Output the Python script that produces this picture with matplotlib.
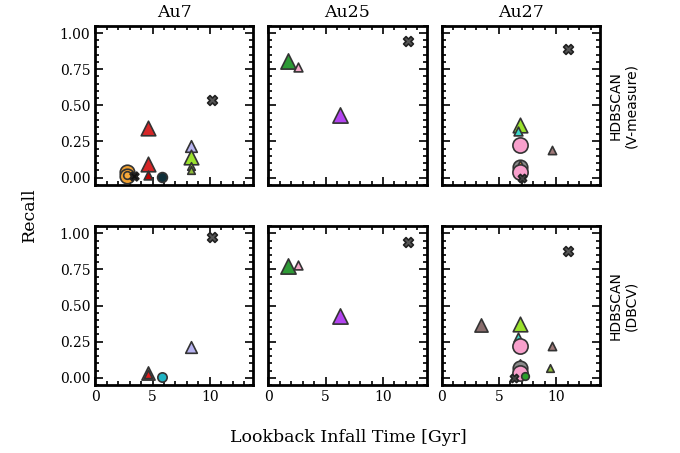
import matplotlib
matplotlib.use("Agg")
import matplotlib.pyplot as plt
from matplotlib.ticker import MultipleLocator

halos = ["Au7", "Au25", "Au27"]
methods = ["HDBSCAN\n(V-measure)", "HDBSCAN\n(DBCV)"]

# lookback infall time [Gyr], recall, and which kind of object it is
au7_vm_t = [2.8, 2.8, 2.8, 3.4, 4.6, 4.6, 4.6, 5.85, 8.4, 8.4, 8.4, 8.4, 10.15]
au7_vm_r = [0.04, 0.01, 0.02, 0.01, 0.34, 0.095, 0.02, 0.005, 0.215, 0.145, 0.08, 0.05, 0.535]
au7_vm_k = ["orange_c", "orange_c", "orange_s", "black_x", "red_t", "red_t", "dred_s", "dark_c",
            "lav_t", "chart_t", "olive_s", "olive_s", "gray_x"]

au25_vm_t = [1.75, 2.55, 6.25, 12.15]
au25_vm_r = [0.81, 0.765, 0.435, 0.945]
au25_vm_k = ["green_t", "pink_s", "purple_t", "gray_x"]

au27_vm_t = [6.85, 6.7, 6.85, 9.6, 6.85, 6.85, 6.85, 7.0, 11.05]
au27_vm_r = [0.365, 0.32, 0.225, 0.19, 0.07, 0.085, 0.035, 0.0, 0.89]
au27_vm_k = ["chart_t", "cyan_s", "pink_c", "rosy_s", "gray_c", "orange_t", "pink_c", "dark_x", "gray_x"]

au7_db_t = [4.6, 4.6, 5.85, 8.4, 10.2]
au7_db_r = [0.03, 0.025, 0.005, 0.21, 0.975]
au7_db_k = ["rosy_t", "red_s", "cyan_c", "lav_t", "gray_x"]

au25_db_t = [1.75, 2.55, 6.25, 12.15]
au25_db_r = [0.775, 0.78, 0.43, 0.94]
au25_db_k = ["green_t", "pink_s", "purple_t", "gray_x"]

au27_db_t = [3.4, 6.85, 6.7, 6.85, 9.6, 9.45, 6.85, 6.85, 6.85, 6.35, 7.3, 11.05]
au27_db_r = [0.365, 0.375, 0.285, 0.22, 0.22, 0.065, 0.095, 0.07, 0.03, 0.0, 0.01, 0.88]
au27_db_k = ["rosy_t", "chart_t", "cyan_s", "pink_c", "rosy_s", "olive_s", "orange_t", "gray_c",
             "pink_c", "dark_x", "green_c", "gray_x"]

# marker, face colour, size
styles = {
    "gray_x": ("X", "#555555", 50),
    "black_x": ("X", "#111111", 40),
    "dark_x": ("X", "#444444", 35),
    "red_t": ("^", "#d62728", 110),
    "red_s": ("^", "#e31a1c", 35),
    "dred_s": ("^", "#c00000", 40),
    "lav_t": ("^", "#b7b3f0", 70),
    "chart_t": ("^", "#9be22d", 110),
    "olive_s": ("^", "#8fbc3a", 30),
    "green_t": ("^", "#2e9a36", 120),
    "pink_s": ("^", "#f4a8c8", 40),
    "purple_t": ("^", "#b344f0", 120),
    "cyan_s": ("^", "#3ed6c8", 40),
    "rosy_s": ("^", "#a07a7a", 35),
    "rosy_t": ("^", "#8a6e6e", 90),
    "orange_t": ("^", "#f09a30", 45),
    "orange_c": ("o", "#f0a030", 110),
    "orange_s": ("o", "#f7a93a", 30),
    "dark_c": ("o", "#10303a", 50),
    "cyan_c": ("o", "#20b4c4", 45),
    "pink_c": ("o", "#f8a0cc", 120),
    "gray_c": ("o", "#8a8a8a", 110),
    "green_c": ("o", "#2ca02c", 30),
}

panels = [
    [(au7_vm_t, au7_vm_r, au7_vm_k), (au25_vm_t, au25_vm_r, au25_vm_k), (au27_vm_t, au27_vm_r, au27_vm_k)],
    [(au7_db_t, au7_db_r, au7_db_k), (au25_db_t, au25_db_r, au25_db_k), (au27_db_t, au27_db_r, au27_db_k)],
]

fig, axes = plt.subplots(2, 3, figsize=(6.8, 4.53), dpi=100, sharex=True, sharey=True)
plt.subplots_adjust(left=0.14, right=0.882, top=0.943, bottom=0.15, wspace=0.095, hspace=0.26)

for i in range(2):
    for j in range(3):
        ax = axes[i, j]
        t, r, k = panels[i][j]
        for tt, rr, kk in zip(t, r, k):
            m, c, s = styles[kk]
            ec = "#333333" if m != "X" else "#222222"
            ax.scatter(tt, rr, marker=m, s=s, c=c, edgecolors=ec, linewidths=1.2, zorder=3)
        ax.set_xlim(0, 13.8)
        ax.set_ylim(-0.05, 1.05)
        ax.xaxis.set_major_locator(MultipleLocator(5))
        ax.xaxis.set_minor_locator(MultipleLocator(1))
        ax.yaxis.set_major_locator(MultipleLocator(0.25))
        ax.yaxis.set_minor_locator(MultipleLocator(0.05))
        ax.tick_params(which="both", direction="in", top=True, right=True, width=1.2)
        ax.tick_params(which="major", length=6)
        ax.tick_params(which="minor", length=3)
        for sp in ax.spines.values():
            sp.set_linewidth(2)
        for lab in ax.get_xticklabels() + ax.get_yticklabels():
            lab.set_family("DejaVu Serif")
            lab.set_fontsize(10)
        if i == 0:
            ax.set_title(halos[j], family="DejaVu Serif", fontsize=12.5)
            ax.tick_params(labelbottom=False)
    axes[i, 2].text(1.15, 0.5, methods[i], transform=axes[i, 2].transAxes, rotation=90,
                    ha="center", va="center", fontsize=10, family="DejaVu Sans")

fig.text(0.043, 0.525, "Recall", rotation=90, ha="center", va="center", family="DejaVu Serif", fontsize=12.5)
fig.text(0.512, 0.035, "Lookback Infall Time [Gyr]", ha="center", va="center", family="DejaVu Serif", fontsize=12.5)

plt.savefig("out.png", dpi=100)
